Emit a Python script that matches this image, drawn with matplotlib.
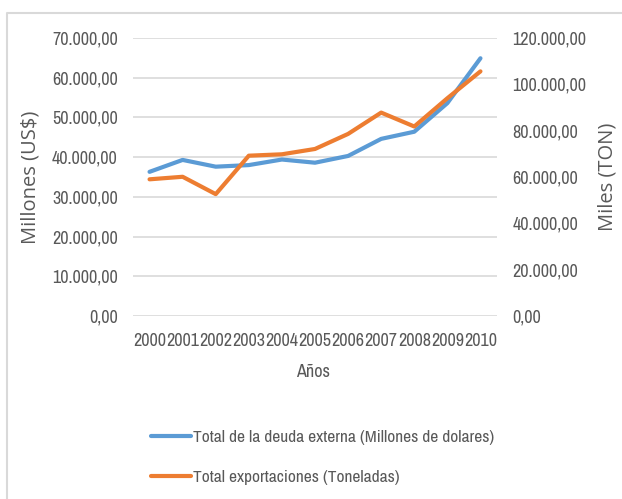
import matplotlib
matplotlib.use('Agg')
import matplotlib.pyplot as plt
from matplotlib import font_manager
from matplotlib.ticker import FuncFormatter

# data
years = ['2000', '2001', '2002', '2003', '2004', '2005',
         '2006', '2007', '2008', '2009', '2010']
deuda = [36300, 39300, 37600, 38000, 39400, 38600,
         40300, 44600, 46400, 53600, 64900]
export = [59000, 60100, 52600, 69200, 69800, 72100,
          78600, 87800, 81800, 94000, 105600]
left_ticks = [0, 10000, 20000, 30000, 40000, 50000, 60000, 70000]
right_ticks = [0, 20000, 40000, 60000, 80000, 100000, 120000]

blue = '#5B9BD5'
orange = '#ED7D31'
grey_txt = '#595959'
grid_col = '#D9D9D9'

names = sorted({f.name for f in font_manager.fontManager.ttflist})
cond = [n for n in names if 'Narrow' in n or 'Condensed' in n]
narrow = cond[0] if cond else 'Lato'
tick_size = 13 if cond else 10.8
leg_size = 12.5 if cond else 11


def es_fmt(v, pos=None):
    s = f'{v:,.2f}'
    return s.replace(',', 'X').replace('.', ',').replace('X', '.')


fig = plt.figure(figsize=(6.22, 4.99), dpi=100)
W, H = 622, 499

ax = fig.add_axes([133 / W, 1 - 316 / H, 364 / W, 278 / H])
ax2 = ax.twinx()

x = list(range(len(years)))
l1, = ax.plot(x, deuda, color=blue, lw=3, solid_capstyle='round', zorder=3)
l2, = ax2.plot(x, export, color=orange, lw=3, solid_capstyle='round', zorder=3)

ax.set_xlim(-0.5, len(years) - 0.5)
ax.set_ylim(0, 70000)
ax2.set_ylim(0, 120000)
ax.set_yticks(left_ticks)
ax2.set_yticks(right_ticks)
ax.yaxis.set_major_formatter(FuncFormatter(es_fmt))
ax2.yaxis.set_major_formatter(FuncFormatter(es_fmt))
ax.set_xticks(x)
ax.set_xticklabels(years)

ax.grid(axis='y', color=grid_col, lw=1.2)
ax.set_axisbelow(True)
for a in (ax, ax2):
    for s in a.spines.values():
        s.set_visible(False)
    a.tick_params(length=0, colors=grey_txt, labelsize=tick_size)
    for t in a.get_xticklabels() + a.get_yticklabels():
        t.set_fontfamily(narrow)
ax.tick_params(axis='y', pad=11)
ax2.tick_params(axis='y', pad=11)
ax.tick_params(axis='x', pad=12)

ax.set_xlabel('Años', fontsize=tick_size, color=grey_txt, family=narrow)
ax.xaxis.set_label_coords(0.495, -0.172)
ax.set_ylabel('Millones (US$)', fontsize=14.5, color=grey_txt, family='Open Sans')
ax.yaxis.set_label_coords(-0.253, 0.5)
ax2.set_ylabel('Miles (TON)', fontsize=14.5, color=grey_txt, family='Open Sans')
ax2.yaxis.set_label_coords(1.275, 0.5)

leg = fig.legend([l1, l2],
                 ['Total de la deuda externa (Millones de dolares)',
                  'Total exportaciones (Toneladas)'],
                 loc='upper left', bbox_to_anchor=(151 / W, 1 - 430 / H),
                 frameon=False, prop={'family': narrow, 'size': leg_size},
                 handlelength=2.3, handletextpad=0.1, labelspacing=1.4,
                 borderpad=0, borderaxespad=0)
for t in leg.get_texts():
    t.set_color(grey_txt)

# chart area border (left and top edges visible)
fig.add_artist(plt.Line2D([7 / W, 7 / W, 1], [0, 1 - 13 / H, 1 - 13 / H],
                          color=grid_col, lw=1.5, transform=fig.transFigure))

fig.savefig('out.png', dpi=100, facecolor='white')
